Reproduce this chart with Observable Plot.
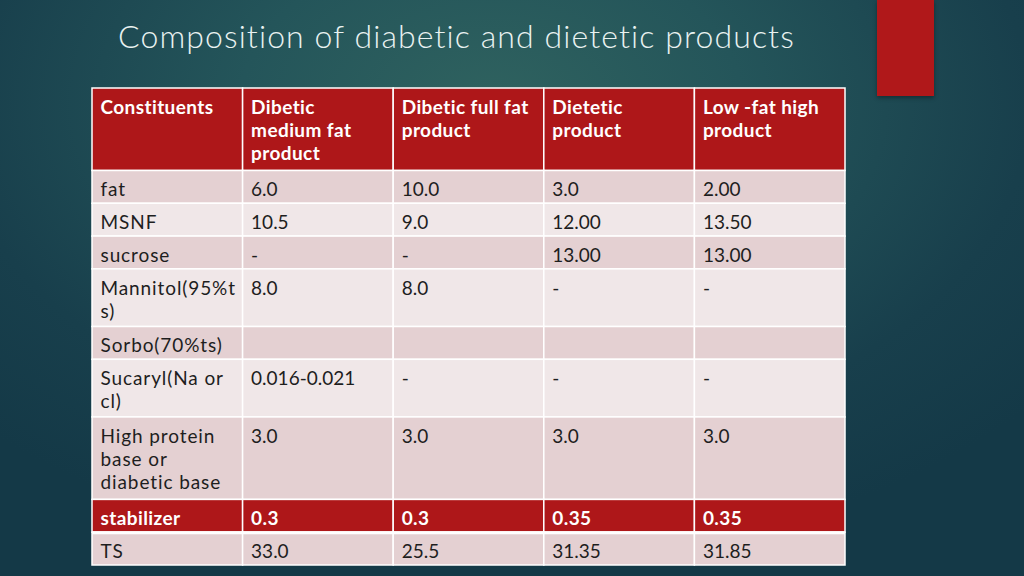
<!DOCTYPE html>
<html>
<head>
<meta charset="utf-8">
<script src="https://cdn.jsdelivr.net/npm/d3@7"></script>
<script src="https://cdn.jsdelivr.net/npm/@observablehq/plot@0.6"></script>
<style>
  html, body { margin: 0; padding: 0; }
  body {
    width: 1024px; height: 576px; overflow: hidden; position: relative;
    background: radial-gradient(ellipse 70% 80% at 48% 18%, #2f625f 0%, #24555a 35%, #183f4c 75%, #143947 100%);
    font-family: "Lato", "Open Sans", sans-serif;
  }
  #title {
    position: absolute; left: 118px; top: 16px;
    font-size: 32px; color: #e9f2f1; font-weight: 300; letter-spacing: 1.1px;
    white-space: nowrap;
  }
  #deco {
    position: absolute; left: 877px; top: 0; width: 57px; height: 96px;
    background: #b0181a; box-shadow: 0 2px 4px rgba(0,0,0,0.35);
  }
  #chart { position: absolute; left: 0; top: 0; }
</style>
</head>
<body>
<div id="title">Composition of diabetic and dietetic products</div>
<div id="deco"></div>
<div id="chart"></div>
<script>
const headerLabels = ["Constituents", "Dibetic\nmedium fat\nproduct", "Dibetic full fat\nproduct", "Dietetic\nproduct", "Low -fat high\nproduct"];
const constituents = ["fat", "MSNF", "sucrose", "Mannitol(95%t\ns)", "Sorbo(70%ts)", "Sucaryl(Na or\ncl)", "High protein\nbase or\ndiabetic base", "stabilizer", "TS"];
const mediumFat = ["6.0", "10.5", "-", "8.0", "", "0.016-0.021", "3.0", "0.3", "33.0"];
const fullFat = ["10.0", "9.0", "-", "8.0", "", "-", "3.0", "0.3", "25.5"];
const dietetic = ["3.0", "12.00", "13.00", "-", "", "-", "3.0", "0.35", "31.35"];
const lowFatHigh = ["2.00", "13.50", "13.00", "-", "", "-", "3.0", "0.35", "31.85"];
const highlightRows = ["stabilizer"];

// Build table rows
const rows = [headerLabels].concat(constituents.map((c, i) => [c, mediumFat[i], fullFat[i], dietetic[i], lowFatHigh[i]]));
const pad = 0.32;
let acc = 0;
const cells = [];
rows.forEach((row, r) => {
  const lines = d3.max(row, s => s.split("\n").length);
  const top = acc, bottom = acc + lines + pad;
  acc = bottom;
  const kind = r === 0 ? "header" : highlightRows.includes(row[0]) ? "highlight" : (r % 2 === 1 ? "dark" : "light");
  row.forEach((text, c) => cells.push({r, c, text, top, bottom, kind, numeric: /^[0-9.\-]*$/.test(text)}));
});
const total = acc;
const highlightBottoms = cells.filter(d => d.kind === "highlight" && d.c === 0).map(d => d.bottom);

const fills = {header: "#ae1719", highlight: "#ae1719", dark: "#e4d0d2", light: "#f0e7e8"};
const bold = d => d.kind === "header" || d.kind === "highlight";
const common = {x: "c", y: "top", text: "text", textAnchor: "start", lineAnchor: "top", dx: 8, dy: 9, fontSize: 19, lineHeight: 1.22};

const chart = Plot.plot({
  width: 1024, height: 576,
  marginLeft: 92, marginRight: 179, marginTop: 88, marginBottom: 11,
  x: {domain: [0, 5], axis: null},
  y: {domain: [0, total], reverse: true, axis: null},
  style: {background: "transparent", fontFamily: "Lato, 'Open Sans', sans-serif"},
  marks: [
    Plot.rect(cells, {x1: "c", x2: d => d.c + 1, y1: "top", y2: "bottom", fill: d => fills[d.kind], stroke: "#ffffff", strokeWidth: 1.5}),
    Plot.ruleY(highlightBottoms, {x1: 0, x2: 5, stroke: "#ffffff", strokeWidth: 3}),
    Plot.text(cells.filter(d => !bold(d) && d.numeric), {...common, fill: "#1e1e1e", className: "num"}),
    Plot.text(cells.filter(d => !bold(d) && !d.numeric), {...common, fill: "#1e1e1e", className: "lbl"}),
    Plot.text(cells.filter(bold), {...common, fill: "#ffffff", fontWeight: "bold", className: "bld"})
  ]
});
chart.querySelectorAll("g.lbl text").forEach(t => t.setAttribute("letter-spacing", "0.9"));
chart.querySelectorAll("g.bld text").forEach(t => t.setAttribute("letter-spacing", "0.4"));
document.getElementById("chart").appendChild(chart);
</script>
</body>
</html>
